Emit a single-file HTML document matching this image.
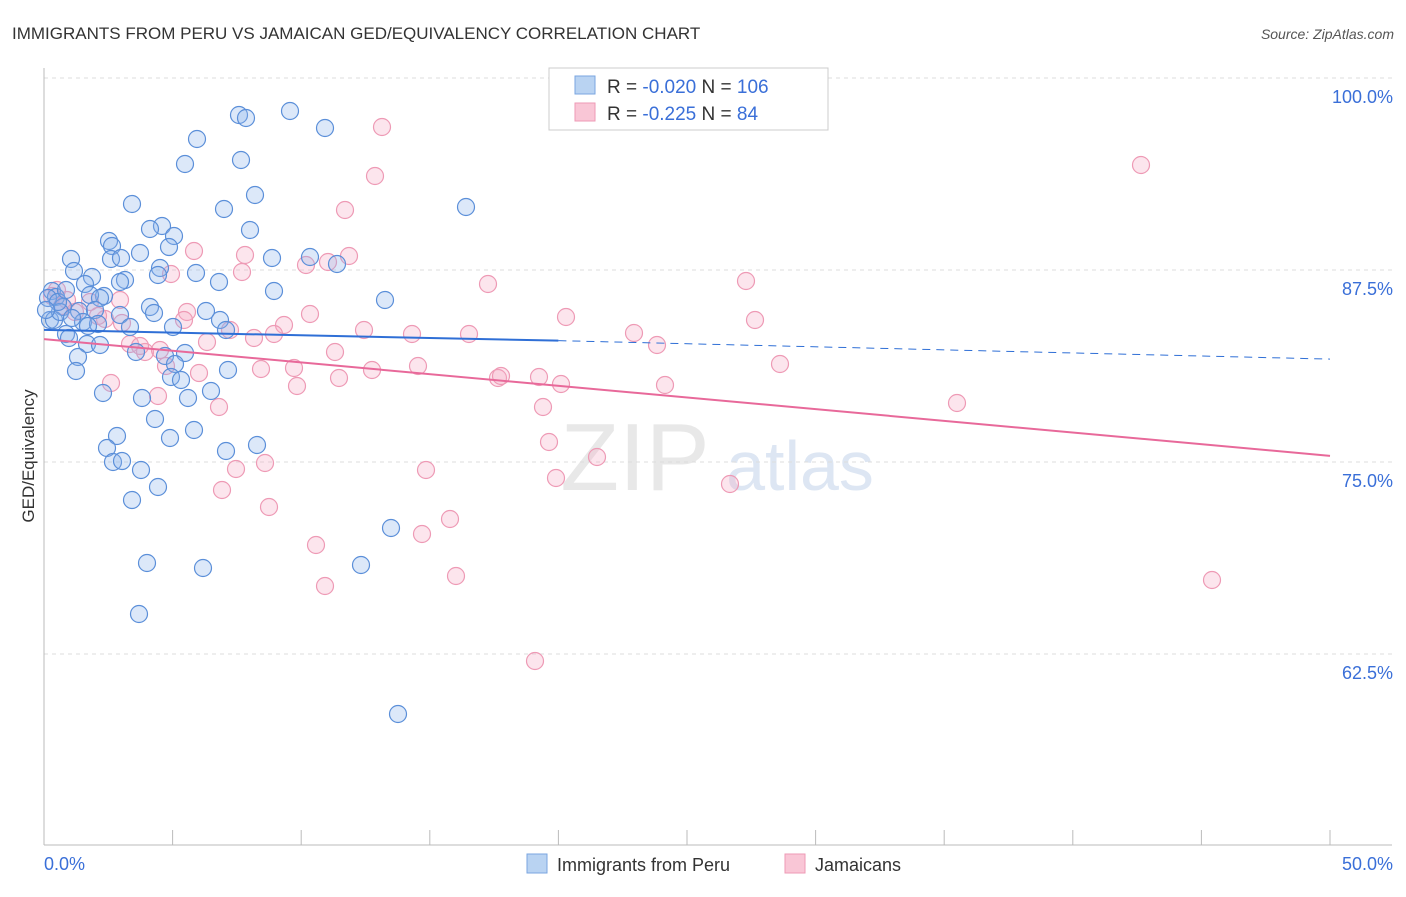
<!DOCTYPE html>
<html><head><meta charset="utf-8"><style>
body{margin:0;background:#fff;font-family:"Liberation Sans",sans-serif;}
svg text{font-family:"Liberation Sans",sans-serif;}
</style></head><body>
<svg id="chart" width="1406" height="892">
<text x="12" y="39" font-size="17" fill="#333">IMMIGRANTS FROM PERU VS JAMAICAN GED/EQUIVALENCY CORRELATION CHART</text>
<text x="1394" y="39" font-size="14" fill="#555" text-anchor="end" font-style="italic">Source: ZipAtlas.com</text>
<text x="635" y="490" font-size="96" fill="#e8e8e8" font-family="Liberation Serif" text-anchor="middle">ZIP</text>
<text x="800" y="490" font-size="70" fill="#dde6f3" text-anchor="middle">atlas</text>
<g id="grid"></g><g id="axes"></g><g id="pts"></g><g id="trends"></g>
<text x="34" y="456" font-size="17" fill="#333" transform="rotate(-90 34 456)" text-anchor="middle">GED/Equivalency</text>
<g>
<rect x="549" y="68" width="279" height="62" fill="#fff" stroke="#ccc"/>
<rect x="575" y="76" width="20" height="18" fill="#b9d3f2" stroke="#7aa6e0"/>
<rect x="575" y="103" width="20" height="18" fill="#f9c6d6" stroke="#ee9ab5"/>
<text x="607" y="93" font-size="19" fill="#333">R = <tspan fill="#3a6fd8">-0.020</tspan>   N = <tspan fill="#3a6fd8">106</tspan></text>
<text x="607" y="120" font-size="19" fill="#333">R =  <tspan fill="#3a6fd8">-0.225</tspan>   N =   <tspan fill="#3a6fd8">84</tspan></text>
</g>
<g>
<rect x="527" y="854" width="20" height="19" fill="#b9d3f2" stroke="#7aa6e0"/>
<text x="557" y="871" font-size="18" fill="#333">Immigrants from Peru</text>
<rect x="785" y="854" width="20" height="19" fill="#f9c6d6" stroke="#ee9ab5"/>
<text x="815" y="871" font-size="18" fill="#333">Jamaicans</text>
</g>
</svg>
<script>
const yTicks=[100,87.5,75,62.5];
const yTickLabels=["100.0%","87.5%","75.0%","62.5%"];
const xTickLabels=["0.0%","50.0%"];
const peruPx=[[290,111],[239,115],[246,118],[325,128],[197,139],[185,164],[241,160],[255,195],[224,209],[132,204],[466,207],[162,226],[150,229],[174,236],[250,230],[109,241],[112,246],[140,253],[169,247],[71,259],[111,259],[121,258],[272,258],[310,257],[337,264],[74,271],[92,277],[160,268],[196,273],[158,275],[125,280],[85,284],[120,282],[219,282],[104,296],[274,291],[385,300],[52,291],[56,297],[90,295],[100,298],[150,307],[154,313],[206,311],[63,307],[79,311],[95,310],[120,315],[220,320],[50,320],[54,320],[83,322],[98,324],[130,327],[173,327],[226,330],[66,334],[69,338],[87,344],[100,345],[136,352],[185,353],[165,356],[78,357],[175,364],[228,370],[76,371],[171,377],[181,380],[103,393],[142,398],[188,398],[211,391],[155,419],[170,438],[194,430],[117,436],[107,448],[226,451],[257,445],[113,462],[122,461],[141,470],[158,487],[132,500],[391,528],[147,563],[203,568],[361,565],[139,614],[398,714],[48,298],[60,312],[58,302],[72,318],[88,326],[46,310],[66,290]];
const jamPx=[[382,127],[1141,165],[375,176],[345,210],[194,251],[245,255],[349,256],[306,265],[328,262],[171,274],[242,272],[488,284],[746,281],[57,290],[67,300],[90,302],[120,300],[187,312],[184,320],[310,314],[566,317],[755,320],[122,323],[105,319],[230,330],[284,325],[364,330],[412,334],[469,334],[634,333],[657,345],[207,342],[254,338],[274,334],[130,344],[145,352],[160,350],[335,352],[166,366],[199,373],[261,369],[294,368],[372,370],[418,366],[498,378],[501,376],[539,377],[561,384],[665,385],[780,364],[111,383],[297,386],[339,378],[219,407],[158,396],[543,407],[957,403],[549,442],[597,457],[236,469],[265,463],[426,470],[556,478],[730,484],[222,490],[269,507],[450,519],[422,534],[316,545],[456,576],[325,586],[1212,580],[535,661],[52,296],[62,306],[75,312],[98,316],[140,346]];
// convert to data units (x %, y %)
const peruX=peruPx.map(p=>(p[0]-44)/1286*50), peruY=peruPx.map(p=>100-(p[1]-78)/192*12.5);
const jamX=jamPx.map(p=>(p[0]-44)/1286*50), jamY=jamPx.map(p=>100-(p[1]-78)/192*12.5);
const peruTrend=[83.6,82.9,81.7]; // at x=0, 20, 50
const jamTrend=[83.0,75.4];        // at x=0, 50
const sx=v=>44+v/50*1286, sy=v=>78+(100-v)/12.5*192;
const NS="http://www.w3.org/2000/svg";
function mk(t,a,p){const e=document.createElementNS(NS,t);for(const k in a)e.setAttribute(k,a[k]);p.appendChild(e);return e;}
const grid=document.getElementById('grid'),axes=document.getElementById('axes');
yTicks.forEach((t,i)=>{
 const l=mk('line',{x1:44,x2:1392,y1:sy(t),y2:sy(t),stroke:'#ddd','stroke-dasharray':'4,4'},grid);
 
 
 const tx=mk('text',{x:1393,y:sy(t)+25,'font-size':18,fill:'#3a6fd8','text-anchor':'end'},axes);
 tx.textContent=yTickLabels[i];
 
 
});
mk('line',{x1:44,x2:44,y1:68,y2:845,stroke:'#bbb'},axes);
mk('line',{x1:44,x2:1392,y1:845,y2:845,stroke:'#bbb'},axes);
for(let i=0;i<=10;i++){mk('line',{x1:sx(i*5),x2:sx(i*5),y1:830,y2:845,stroke:'#bbb'},axes);}
const xl0=mk('text',{x:44,y:870,'font-size':18,fill:'#3a6fd8'},axes);xl0.textContent=xTickLabels[0];


const xl1=mk('text',{x:1393,y:870,'font-size':18,fill:'#3a6fd8','text-anchor':'end'},axes);xl1.textContent=xTickLabels[1];


const pts=document.getElementById('pts');
jamX.forEach((x,i)=>{const c=mk('circle',{cx:sx(x),cy:sy(jamY[i]),r:8.5,fill:'rgba(246,170,196,0.3)',stroke:'#ee9ab5','stroke-width':1.2},pts);
 
 });
peruX.forEach((x,i)=>{const c=mk('circle',{cx:sx(x),cy:sy(peruY[i]),r:8.5,fill:'rgba(140,180,235,0.3)',stroke:'#5b8fd9','stroke-width':1.2},pts);
 
 });
const tr=document.getElementById('trends');
const pt=(x,y)=>[sx(x),sy(y)];
let a=pt(0,peruTrend[0]),b=pt(20,peruTrend[1]),c2=pt(50,peruTrend[2]);
const l1=mk('line',{x1:a[0],y1:a[1],x2:b[0],y2:b[1],stroke:'#2f6fd6','stroke-width':2},tr);


const l2=mk('line',{x1:b[0],y1:b[1],x2:c2[0],y2:c2[1],stroke:'#2f6fd6','stroke-width':1,'stroke-dasharray':'8,6'},tr);


a=pt(0,jamTrend[0]);b=pt(50,jamTrend[1]);
const l3=mk('line',{x1:a[0],y1:a[1],x2:b[0],y2:b[1],stroke:'#e8699a','stroke-width':2},tr);


</script>
</body></html>
